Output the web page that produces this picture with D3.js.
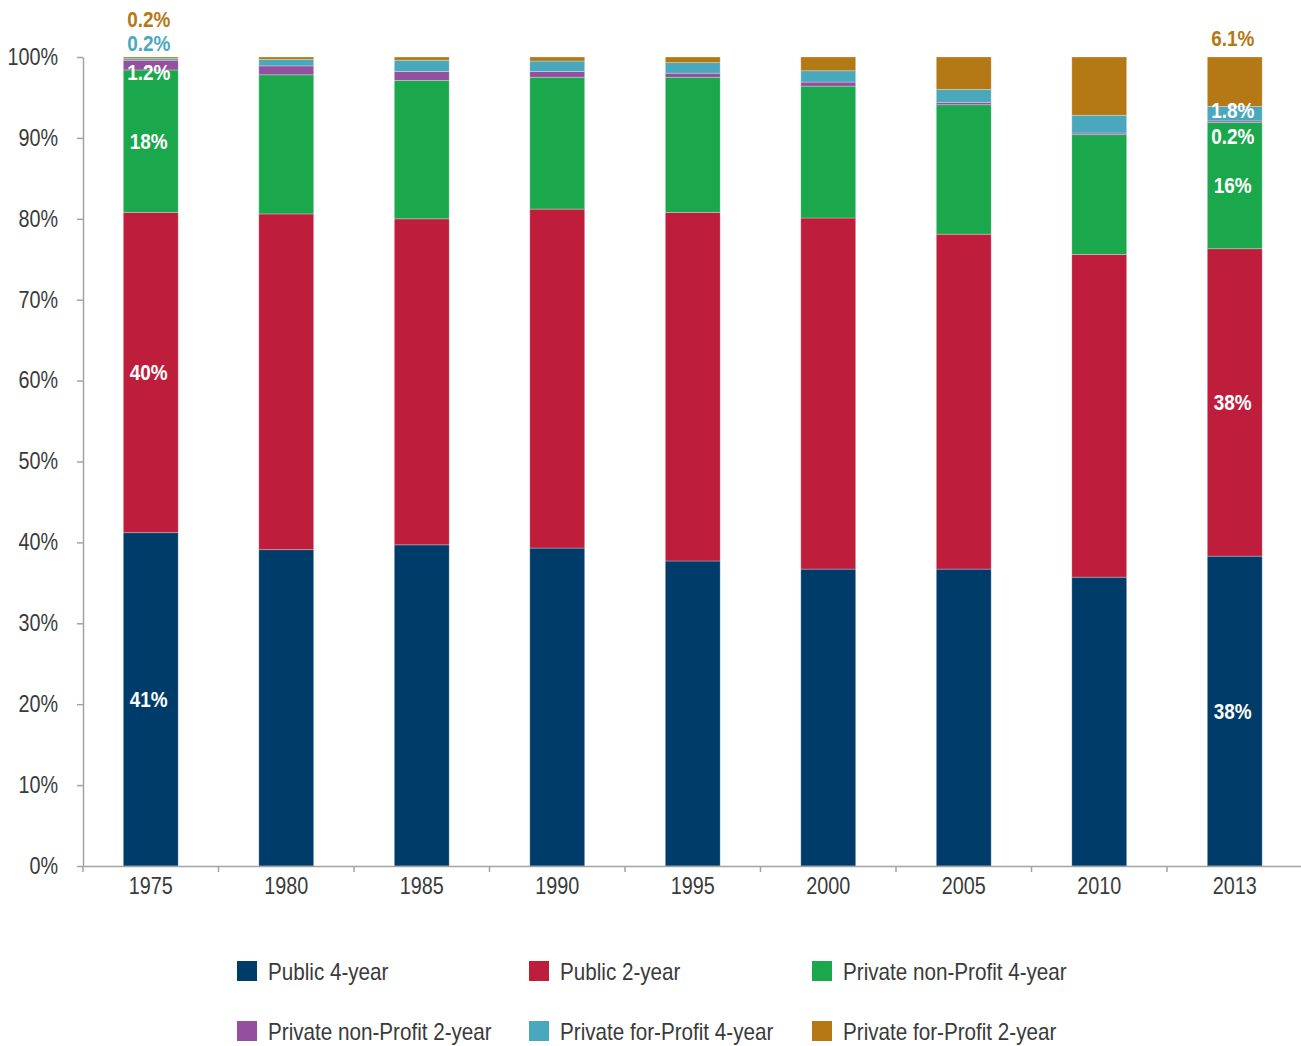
<!DOCTYPE html>
<html>
<head>
<meta charset="utf-8">
<script src="https://cdn.jsdelivr.net/npm/d3@7"></script>
<style>
  html, body { margin: 0; padding: 0; background: #fff; }
  svg { display: block; }
  text { font-family: "Liberation Sans", Arial, sans-serif; }
</style>
</head>
<body>
<svg id="chart" width="1301" height="1046"></svg>
<script>
// ---------- data ----------
const years = ["1975", "1980", "1985", "1990", "1995", "2000", "2005", "2010", "2013"];
const seriesNames = ["Public 4-year", "Public 2-year", "Private non-Profit 4-year",
                     "Private non-Profit 2-year", "Private for-Profit 4-year", "Private for-Profit 2-year"];
const seriesColors = ["#003c69", "#be1e3c", "#1ba84c", "#92509e", "#4aa8bd", "#b47814"];

const public4 = [41.2, 39.1, 39.7, 39.3, 37.7, 36.7, 36.7, 35.7, 38.3];
const public2 = [39.6, 41.5, 40.3, 41.9, 43.1, 43.4, 41.4, 39.9, 38.0];
const privNP4 = [17.6, 17.2, 17.1, 16.3, 16.7, 16.3, 16.0, 14.8, 15.6];
const privNP2 = [1.2, 1.1, 1.1, 0.7, 0.5, 0.5, 0.3, 0.2, 0.2];
const privFP4 = [0.2, 0.8, 1.4, 1.3, 1.3, 1.4, 1.6, 2.2, 1.8];
const privFP2 = [0.2, 0.3, 0.4, 0.5, 0.7, 1.7, 4.0, 7.2, 6.1];
const seriesValues = [public4, public2, privNP4, privNP2, privFP4, privFP2];

const yTicks = [0, 10, 20, 30, 40, 50, 60, 70, 80, 90, 100];

// annotation labels: year, series index, text, placement mode
const labelYears  = ["1975", "1975", "1975", "1975", "1975", "1975", "2013", "2013", "2013", "2013", "2013", "2013"];
const labelSeries = [0, 1, 2, 3, 4, 5, 0, 1, 2, 3, 4, 5];
const labelTexts  = ["41%", "40%", "18%", "1.2%", "0.2%", "0.2%", "38%", "38%", "16%", "0.2%", "1.8%", "6.1%"];
const labelModes  = ["mid", "mid", "mid", "belowBottom", "above1", "above2", "mid", "mid", "mid", "belowSeg", "topIn", "above1b"];

// ---------- layout ----------
const svg = d3.select("#chart");
const plotLeft = 83, plotRight = 1302.5, plotTop = 57, plotBottom = 866;
const narrow = 0.86;

const x = d3.scaleBand().domain(years).range([plotLeft, plotRight]).padding(0);
const barW = x.bandwidth() * 0.405;
const y = d3.scaleLinear().domain([0, 100]).range([plotBottom, plotTop]);

// stack
const table = years.map((yr, i) => {
  const row = { year: yr };
  seriesNames.forEach((s, k) => row[s] = seriesValues[k][i]);
  return row;
});
const stack = d3.stack().keys(seriesNames)(table);

// bars
const gBars = svg.append("g");
stack.forEach((layer, k) => {
  gBars.append("g")
    .attr("fill", seriesColors[k])
    .selectAll("rect")
    .data(layer)
    .join("rect")
    .attr("x", d => x(d.data.year) + (x.bandwidth() - barW) / 2)
    .attr("width", barW)
    .attr("y", d => y(d[1]))
    .attr("height", d => Math.max(0, y(d[0]) - y(d[1])))
    .attr("stroke", "rgba(255,255,255,0.35)")
    .attr("stroke-width", 0.8);
});

// y axis
const axisColor = "#a3a3a3";
const fontStack = "'Liberation Sans', Arial, sans-serif";
const gy = svg.append("g")
  .attr("transform", `translate(${plotLeft},0)`)
  .call(d3.axisLeft(y).tickValues(yTicks).tickFormat(d => d + "%").tickSize(6).tickPadding(19).tickSizeOuter(0));
gy.select(".domain").attr("stroke", axisColor).attr("stroke-width", 1.5);
gy.selectAll(".tick line").attr("stroke", axisColor).attr("stroke-width", 1.5);
gy.selectAll(".tick text").attr("fill", "#3a3a3a").attr("font-size", 23).attr("font-family", fontStack);

// x axis
const gx = svg.append("g")
  .attr("transform", `translate(0,${plotBottom})`)
  .call(d3.axisBottom(x).tickSize(0).tickPadding(12).tickSizeOuter(0));
gx.select(".domain").attr("stroke", axisColor).attr("stroke-width", 1.5);
gx.selectAll(".tick text").attr("fill", "#3a3a3a").attr("font-size", 23).attr("font-family", fontStack);
// boundary ticks
gx.append("g").selectAll("line")
  .data(years)
  .join("line")
  .attr("x1", d => x(d)).attr("x2", d => x(d))
  .attr("y1", 0).attr("y2", 6)
  .attr("stroke", axisColor).attr("stroke-width", 1.5);

// annotation labels
const gLab = svg.append("g");
labelTexts.forEach((t, i) => {
  const yr = labelYears[i], k = labelSeries[i], mode = labelModes[i];
  const idx = years.indexOf(yr);
  const seg = stack[k][idx];
  const cx = x(yr) + x.bandwidth() / 2 - 2;
  let cy;
  if (mode === "mid") cy = (y(seg[0]) + y(seg[1])) / 2;
  else if (mode === "belowBottom") cy = y(seg[0]) + 3;
  else if (mode === "belowSeg") cy = y(seg[0]) + 14;
  else if (mode === "topIn") cy = y(seg[1]) + 4;
  else if (mode === "above1") cy = y(100) - 14;
  else if (mode === "above1b") cy = y(100) - 19;
  else if (mode === "above2") cy = y(100) - 38;
  const outside = mode.startsWith("above");
  gLab.append("text")
    .attr("x", cx).attr("y", cy)
    .attr("text-anchor", "middle")
    .attr("dominant-baseline", "central")
    .attr("font-size", 22)
    .attr("font-weight", "bold")
    .attr("fill", outside ? seriesColors[k] : "#fff")
    .text(t);
});

// legend
const legendCols = [237, 529, 812];
const legendRows = [971, 1031];
const gLeg = svg.append("g");
seriesNames.forEach((s, i) => {
  const lx = legendCols[i % 3], ly = legendRows[Math.floor(i / 3)];
  gLeg.append("rect").attr("x", lx).attr("y", ly - 10).attr("width", 20).attr("height", 20)
    .attr("fill", seriesColors[i]);
  gLeg.append("text").attr("x", lx + 31).attr("y", ly)
    .attr("dominant-baseline", "central")
    .attr("font-size", 24).attr("fill", "#3a3a3a")
    .text(s);
});

// condense all text horizontally (reference uses a condensed face)
svg.selectAll("text").each(function () {
  const len = this.getComputedTextLength();
  this.setAttribute("textLength", (len * narrow).toFixed(2));
  this.setAttribute("lengthAdjust", "spacingAndGlyphs");
});
</script>
</body>
</html>
